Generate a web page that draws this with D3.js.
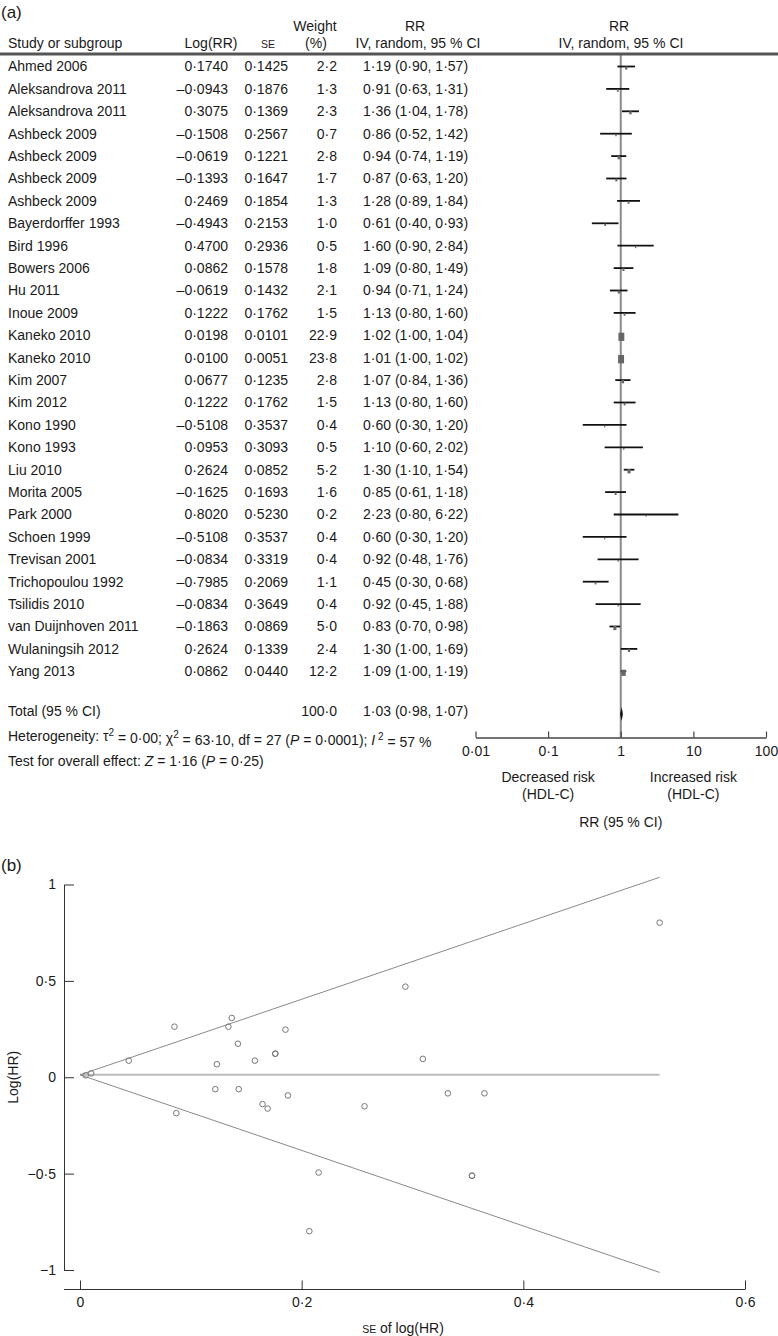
<!DOCTYPE html>
<html>
<head>
<meta charset="utf-8">
<script src="https://cdn.jsdelivr.net/npm/d3@7"></script>
<style>
  html, body { margin: 0; padding: 0; background: #fff; }
  svg { display: block; font-family: "Liberation Sans", Arial, Helvetica, sans-serif; }
</style>
</head>
<body>
<svg id="chart" width="778" height="1336"></svg>
<script>
// ---------- DATA ----------
const studies = ["Ahmed 2006","Aleksandrova 2011","Aleksandrova 2011","Ashbeck 2009","Ashbeck 2009","Ashbeck 2009","Ashbeck 2009","Bayerdorffer 1993","Bird 1996","Bowers 2006","Hu 2011","Inoue 2009","Kaneko 2010","Kaneko 2010","Kim 2007","Kim 2012","Kono 1990","Kono 1993","Liu 2010","Morita 2005","Park 2000","Schoen 1999","Trevisan 2001","Trichopoulou 1992","Tsilidis 2010","van Duijnhoven 2011","Wulaningsih 2012","Yang 2013"];
const logRR = [0.1740,-0.0943,0.3075,-0.1508,-0.0619,-0.1393,0.2469,-0.4943,0.4700,0.0862,-0.0619,0.1222,0.0198,0.0100,0.0677,0.1222,-0.5108,0.0953,0.2624,-0.1625,0.8020,-0.5108,-0.0834,-0.7985,-0.0834,-0.1863,0.2624,0.0862];
const seVals = [0.1425,0.1876,0.1369,0.2567,0.1221,0.1647,0.1854,0.2153,0.2936,0.1578,0.1432,0.1762,0.0101,0.0051,0.1235,0.1762,0.3537,0.3093,0.0852,0.1693,0.5230,0.3537,0.3319,0.2069,0.3649,0.0869,0.1339,0.0440];
const weights = [2.2,1.3,2.3,0.7,2.8,1.7,1.3,1.0,0.5,1.8,2.1,1.5,22.9,23.8,2.8,1.5,0.4,0.5,5.2,1.6,0.2,0.4,0.4,1.1,0.4,5.0,2.4,12.2];
const rr = [1.19,0.91,1.36,0.86,0.94,0.87,1.28,0.61,1.60,1.09,0.94,1.13,1.02,1.01,1.07,1.13,0.60,1.10,1.30,0.85,2.23,0.60,0.92,0.45,0.92,0.83,1.30,1.09];
const ciLow = [0.90,0.63,1.04,0.52,0.74,0.63,0.89,0.40,0.90,0.80,0.71,0.80,1.00,1.00,0.84,0.80,0.30,0.60,1.10,0.61,0.80,0.30,0.48,0.30,0.45,0.70,1.00,1.00];
const ciHigh = [1.57,1.31,1.78,1.42,1.19,1.20,1.84,0.93,2.84,1.49,1.24,1.60,1.04,1.02,1.36,1.60,1.20,2.02,1.54,1.18,6.22,1.20,1.76,0.68,1.88,0.98,1.69,1.19];
const total = {rr: 1.03, lo: 0.98, hi: 1.07, weight: 100.0};
const forestTicks = [0.01, 0.1, 1, 10, 100];
const forestTickLabels = ["0·01","0·1","1","10","100"];
const funnelXTicks = [0, 0.2, 0.4, 0.6];
const funnelXTickLabels = ["0","0·2","0·4","0·6"];
const funnelYTicks = [1, 0.5, 0, -0.5, -1];
const funnelYTickLabels = ["1","0·5","0","−0·5","−1"];
const pooledLog = 0.0125;   // centre of funnel
const maxSE = 0.5230;

// ---------- HELPERS ----------
const svg = d3.select("#chart");
const txtColor = "#1a1a1a";
const FS = 14;
const fmtDot = s => s.replace(/\./g, "·");
const fmt4 = v => (v < 0 ? "–" : "") + fmtDot(Math.abs(v).toFixed(4));
const fmt1 = v => fmtDot(v.toFixed(1));
const fmt2 = v => fmtDot(v.toFixed(2));

function text(x, y, s, opts = {}) {
  return svg.append("text")
    .attr("x", x).attr("y", y)
    .attr("dy", "0.35em")
    .attr("font-size", opts.size || FS)
    .attr("text-anchor", opts.anchor || "start")
    .attr("fill", opts.color || txtColor)
    .text(s);
}

// ---------- PANEL (a) ----------
text(1, 12, "(a)", {size: 17});

// header
text(8, 43, "Study or subgroup");
text(211, 43, "Log(RR)", {anchor: "middle"});
text(268, 44, "SE", {anchor: "middle", size: 10.5});
text(315, 26, "Weight", {anchor: "middle"});
text(316, 43, "(%)", {anchor: "middle"});
text(415, 26, "RR", {anchor: "middle"});
text(418, 43, "IV, random, 95 % CI", {anchor: "middle"});
text(619, 26, "RR", {anchor: "middle"});
text(621, 43, "IV, random, 95 % CI", {anchor: "middle"});

const xF = d3.scaleLog().domain([0.01, 100]).range([475.5, 766]);
const rowY = d3.scaleLinear().domain([0, 1]).range([66.5, 88.9]);

// reference line at RR = 1
svg.append("line")
  .attr("x1", xF(1)).attr("x2", xF(1))
  .attr("y1", 54).attr("y2", 737.5)
  .attr("stroke", "#8a8a8a").attr("stroke-width", 2);

svg.append("line")
  .attr("x1", 0).attr("x2", 778).attr("y1", 54).attr("y2", 54)
  .attr("stroke", "#555").attr("stroke-width", 3);

const rows = studies.map((s, i) => ({
  name: s, lr: logRR[i], se: seVals[i], w: weights[i], rr: rr[i], lo: ciLow[i], hi: ciHigh[i], i
}));

const g = svg.append("g");
rows.forEach(d => {
  const y = rowY(d.i);
  text(8, y, d.name);
  text(228, y, fmt4(d.lr), {anchor: "end"});
  text(288, y, fmt4(d.se), {anchor: "end"});
  text(337, y, fmt1(d.w), {anchor: "end"});
  text(363, y, `${fmt2(d.rr)} (${fmt2(d.lo)}, ${fmt2(d.hi)})`);
  // CI line
  g.append("line")
    .attr("x1", xF(d.lo)).attr("x2", xF(d.hi))
    .attr("y1", y).attr("y2", y)
    .attr("stroke", "#111").attr("stroke-width", 1.8);
  // weight box
  const bw = 1.1 * Math.sqrt(d.w) + 0.6;
  const bh = 1.55 * Math.sqrt(d.w) + 0.8;
  g.append("rect")
    .attr("x", xF(d.rr) - bw / 2).attr("y", y + 1.5 - bh / 2)
    .attr("width", bw).attr("height", bh)
    .attr("fill", "#666");
});

// total
const yTot = 711;
text(8, yTot, "Total (95 % CI)");
text(337, yTot, fmt1(total.weight), {anchor: "end"});
text(363, yTot, `${fmt2(total.rr)} (${fmt2(total.lo)}, ${fmt2(total.hi)})`);
svg.append("path")
  .attr("d", d3.line()([[xF(total.lo), yTot + 3], [xF(total.rr), yTot - 4], [xF(total.hi), yTot + 3], [xF(total.rr), yTot + 10]]) + "Z")
  .attr("fill", "#111");

// heterogeneity text
const het = svg.append("text").attr("x", 8).attr("y", 736).attr("dy", "0.35em")
  .attr("font-size", FS).attr("fill", txtColor);
het.append("tspan").text("Heterogeneity: τ");
het.append("tspan").attr("font-size", 10).attr("dy", "-0.5em").text("2");
het.append("tspan").attr("dy", "0.5em").text(" = 0·00; χ");
het.append("tspan").attr("font-size", 10).attr("dy", "-0.5em").text("2");
het.append("tspan").attr("dy", "0.5em").text(" = 63·10, df = 27 (");
het.append("tspan").attr("font-style", "italic").text("P");
het.append("tspan").text(" = 0·0001); ");
het.append("tspan").attr("font-style", "italic").text("I");
het.append("tspan").attr("font-size", 10).attr("dy", "-0.5em").text(" 2");
het.append("tspan").attr("dy", "0.5em").text(" = 57 %");

const tst = svg.append("text").attr("x", 8).attr("y", 761).attr("dy", "0.35em")
  .attr("font-size", FS).attr("fill", txtColor);
tst.append("tspan").text("Test for overall effect: ");
tst.append("tspan").attr("font-style", "italic").text("Z");
tst.append("tspan").text(" = 1·16 (");
tst.append("tspan").attr("font-style", "italic").text("P");
tst.append("tspan").text(" = 0·25)");

// forest axis
const axF = svg.append("g").attr("transform", "translate(0,737.5)")
  .call(d3.axisBottom(xF).tickValues(forestTicks).tickSize(-6).tickSizeOuter(0)
        .tickFormat((d, i) => forestTickLabels[i]));
axF.select(".domain").attr("stroke", "#444").attr("stroke-width", 1.5);
axF.selectAll(".tick line").attr("stroke", "#444").attr("stroke-width", 1.2);
axF.selectAll(".tick text").attr("font-size", FS).attr("fill", txtColor)
  .attr("font-family", "Liberation Sans, Arial, sans-serif").attr("y", 9);

text(xF(0.1), 777, "Decreased risk", {anchor: "middle"});
text(xF(0.1), 794, "(HDL-C)", {anchor: "middle"});
text(xF(10), 777, "Increased risk", {anchor: "middle"});
text(xF(10), 794, "(HDL-C)", {anchor: "middle"});
text(xF(1), 822, "RR (95 % CI)", {anchor: "middle"});

// ---------- PANEL (b) ----------
text(1, 865, "(b)", {size: 17});

const xS = d3.scaleLinear().domain([0, 0.6]).range([80, 745]);
const yS = d3.scaleLinear().domain([-1, 1]).range([1270, 884.5]);

// y axis
const axY = svg.append("g").attr("transform", "translate(64,0)")
  .call(d3.axisLeft(yS).tickValues(funnelYTicks).tickSize(-10).tickSizeOuter(0)
        .tickFormat((d, i) => funnelYTickLabels[i]));
axY.select(".domain").attr("stroke", "#333");
axY.selectAll(".tick line").attr("stroke", "#333");
axY.selectAll(".tick text").attr("font-size", FS).attr("fill", txtColor)
  .attr("font-family", "Liberation Sans, Arial, sans-serif").attr("x", -8);

// x axis
const axX = svg.append("g").attr("transform", "translate(0,1289.5)")
  .call(d3.axisBottom(xS).tickValues(funnelXTicks).tickSize(-9).tickSizeOuter(0)
        .tickFormat((d, i) => funnelXTickLabels[i]));
axX.select(".domain").attr("d", `M64,0H${xS(0.6)}`).attr("stroke", "#333");
axX.selectAll(".tick line").attr("stroke", "#333");
axX.selectAll(".tick text").attr("font-size", FS).attr("fill", txtColor)
  .attr("font-family", "Liberation Sans, Arial, sans-serif").attr("y", 8);

// axis titles
const xt = svg.append("text").attr("x", 403).attr("y", 1328).attr("dy", "0.35em")
  .attr("text-anchor", "middle").attr("font-size", FS).attr("fill", txtColor);
xt.append("tspan").attr("font-size", 10.5).text("SE");
xt.append("tspan").text(" of log(HR)");
svg.append("text").attr("transform", `translate(13,${yS(0)}) rotate(-90)`)
  .attr("dy", "0.35em").attr("text-anchor", "middle").attr("font-size", FS)
  .attr("fill", txtColor).text("Log(HR)");

// funnel lines
svg.append("line")
  .attr("x1", xS(0)).attr("x2", xS(maxSE)).attr("y1", yS(pooledLog)).attr("y2", yS(pooledLog))
  .attr("stroke", "#bdbdbd").attr("stroke-width", 2);
[1, -1].forEach(sg => {
  svg.append("line")
    .attr("x1", xS(0)).attr("y1", yS(pooledLog))
    .attr("x2", xS(maxSE)).attr("y2", yS(pooledLog + sg * 1.96 * maxSE))
    .attr("stroke", "#8a8a8a").attr("stroke-width", 1);
});

// points
svg.append("g").selectAll("circle").data(rows).join("circle")
  .attr("cx", d => xS(d.se)).attr("cy", d => yS(d.lr)).attr("r", 2.8)
  .attr("fill", "none").attr("stroke", "#777").attr("stroke-width", 1);
</script>
</body>
</html>
